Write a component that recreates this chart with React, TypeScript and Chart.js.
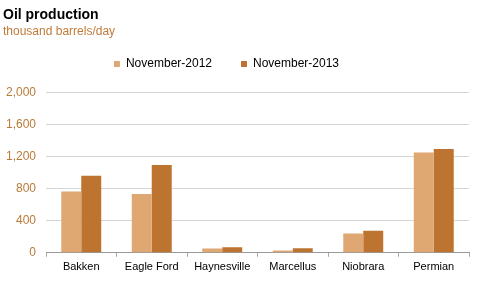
import React, { useEffect, useRef } from "react";
import { Chart, registerables } from "chart.js";

Chart.register(...registerables);

const categories = ["Bakken", "Eagle Ford", "Haynesville", "Marcellus", "Niobrara", "Permian"];
const nov2012 = [766, 733, 55, 28, 242, 1254];
const nov2013 = [962, 1096, 70, 58, 275, 1296];
const yTicks = [0, 400, 800, 1200, 1600, 2000];

const FONT = "'Liberation Sans', Arial, Helvetica, sans-serif";

const legendTweak = {
  id: "legendTweak",
  beforeInit(chart: any) {
    const legend = chart.legend;
    if (!legend) return;
    const orig = legend.fit;
    legend.fit = function () {
      orig.call(this);
      this.height = 54;
    };
  },
  afterLayout(chart: any) {
    const lg = chart.legend;
    if (!lg) return;
    const h = lg.height;
    lg.top = 29;
    lg.bottom = lg.top + h;
    lg.left -= 19;
  },
};

export default function App() {
  const ref = useRef<HTMLCanvasElement | null>(null);
  useEffect(() => {
    document.body.style.margin = "0";
    const ctx = ref.current!;
    const chart = new Chart(ctx, {
      type: "bar",
      data: {
        labels: categories,
        datasets: [
          { label: "November-2012", data: nov2012, backgroundColor: "#DFA872", borderWidth: 0 },
          { label: "November-2013", data: nov2013, backgroundColor: "#BD7430", borderWidth: 0 },
        ],
      },
      plugins: [legendTweak],
      options: {
        animation: false,
        responsive: false,
        maintainAspectRatio: false,
        layout: { padding: { left: 3, right: 25, top: 0, bottom: 7 } },
        datasets: { bar: { categoryPercentage: 0.567, barPercentage: 1 } },
        plugins: {
          title: {
            display: true,
            text: "Oil production",
            align: "start",
            color: "#000",
            font: { family: FONT, size: 14, weight: "bold" },
            padding: { top: 6.5, bottom: 0 },
          },
          subtitle: {
            display: true,
            text: "thousand barrels/day",
            align: "start",
            color: "#C07A3A",
            font: { family: FONT, size: 12 },
            padding: { top: 1, bottom: 0 },
          },
          legend: {
            display: true,
            position: "top",
            labels: {
              boxWidth: 6,
              boxHeight: 6,
              color: "#000",
              font: { family: FONT, size: 12 },
              padding: 29,
            },
          },
          tooltip: { enabled: false },
        },
        scales: {
          x: {
            grid: { offset: true, drawOnChartArea: false, drawTicks: true, tickLength: 4, color: "#aaa" },
            border: { display: true, color: "#999" },
            ticks: { color: "#000", font: { family: FONT, size: 11 }, padding: 4 },
          },
          y: {
            min: 0,
            max: 2000,
            afterBuildTicks: (scale: any) => {
              scale.ticks = yTicks.map((v) => ({ value: v }));
            },
            afterFit: (scale: any) => {
              scale.width = 43;
            },
            grid: { color: "#d6d6d6", drawTicks: false },
            border: { display: false },
            ticks: {
              color: "#B87A38",
              font: { family: FONT, size: 12 },
              padding: 10,
              callback: (v: any) => Number(v).toLocaleString("en-US"),
            },
          },
        },
      },
    });
    return () => chart.destroy();
  }, []);
  return (
    <div style={{ position: "absolute", left: 0, top: 0, width: 494, height: 285 }}>
      <canvas ref={ref} width={494} height={285} style={{ width: 494, height: 285 }} />
    </div>
  );
}
